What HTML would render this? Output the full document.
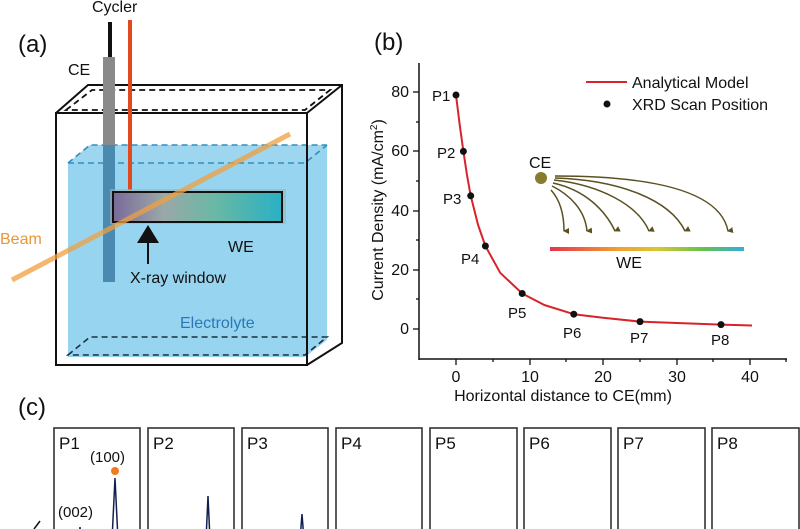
<!DOCTYPE html>
<html><head><meta charset="utf-8"><style>
html,body{margin:0;padding:0;background:#fff;}
svg{display:block;font-family:"Liberation Sans",sans-serif;}
</style></head><body>
<svg width="800" height="529" viewBox="0 0 800 529" xmlns="http://www.w3.org/2000/svg">
<defs>
<linearGradient id="we" x1="0" x2="1"><stop offset="0" stop-color="#7a6a9a"/><stop offset="0.3" stop-color="#9aa8a8"/><stop offset="0.6" stop-color="#6ab8a4"/><stop offset="1" stop-color="#2ab0c4"/></linearGradient>
<linearGradient id="rb" x1="0" x2="1"><stop offset="0" stop-color="#e8334a"/><stop offset="0.35" stop-color="#f0a030"/><stop offset="0.55" stop-color="#d8c830"/><stop offset="0.8" stop-color="#60c050"/><stop offset="1" stop-color="#30b0e0"/></linearGradient>
<marker id="ah" markerWidth="6" markerHeight="6" refX="3" refY="5" orient="auto-start-reverse" markerUnits="userSpaceOnUse"><path d="M0,0 L6,0 L3,6 z" fill="#5a5020"/></marker>
</defs>
<!-- panel a -->
<text x="18" y="52" font-size="24" fill="#111">(a)</text>
<text x="92" y="12" font-size="16" fill="#111">Cycler</text>
<text x="68" y="75" font-size="16" fill="#111">CE</text>
<path d="M56,113 L88,85 L342,85 L342,343 L307,365" fill="none" stroke="#111" stroke-width="2"/>
<path d="M66,110 L92,90 L330,90 L305,110 Z" fill="none" stroke="#111" stroke-width="1.8" stroke-dasharray="6,4"/>
<path d="M68,163 L90,145 L327,145 L327,340 L305,357 L68,357 Z" fill="#8ccfee" opacity="0.9"/>
<path d="M68,163 L90,145 L327,145 L305,163 Z" fill="#9ed6f0"/>
<path d="M68,163 L90,145 L327,145 M68,163 L305,163 L327,145" fill="none" stroke="#2e8fc0" stroke-width="1.6" stroke-dasharray="6,4"/>
<path d="M68,355 L90,337 L327,337 L305,355 Z" fill="none" stroke="#1a3040" stroke-width="1.6" stroke-dasharray="6,4"/>
<rect x="56" y="113" width="251" height="252" fill="none" stroke="#111" stroke-width="2"/>
<path d="M307,113 L342,85" stroke="#111" stroke-width="2"/>
<line x1="110" y1="22" x2="110" y2="58" stroke="#111" stroke-width="4"/>
<line x1="130" y1="20" x2="130" y2="190" stroke="#e04a1e" stroke-width="4"/>
<rect x="103" y="57" width="12" height="225" fill="#8a8a8a"/>
<rect x="103" y="145" width="12" height="137" fill="#4a8ab0"/>
<rect x="110" y="189" width="176" height="35" fill="#9cb4b8" opacity="0.6"/>
<rect x="113" y="192" width="169" height="30" fill="url(#we)" stroke="#111" stroke-width="2"/>
<line x1="12" y1="280" x2="290" y2="134" stroke="#f0a040" stroke-width="5" opacity="0.75"/>
<line x1="148" y1="240" x2="148" y2="264" stroke="#111" stroke-width="2"/>
<path d="M137,243 L159,243 L148,225 Z" fill="#111"/>
<text x="0" y="244" font-size="16" fill="#e8963a">Beam</text>
<text x="228" y="252" font-size="16" fill="#111">WE</text>
<text x="130" y="283" font-size="16" fill="#111">X-ray window</text>
<text x="180" y="328" font-size="16" fill="#2a78b8">Electrolyte</text>
<!-- panel b -->
<text x="374" y="50" font-size="24" fill="#111">(b)</text>
<g stroke="#111" stroke-width="1.5" fill="none">
<line x1="419" y1="63" x2="419" y2="360"/>
<line x1="419" y1="359" x2="787" y2="359"/>
</g>
<g stroke="#111" stroke-width="1.3">
<line x1="419" y1="92" x2="413" y2="92"/><line x1="419" y1="151" x2="413" y2="151"/><line x1="419" y1="211" x2="413" y2="211"/><line x1="419" y1="270" x2="413" y2="270"/><line x1="419" y1="329" x2="413" y2="329"/>
<line x1="419" y1="122" x2="416" y2="122"/><line x1="419" y1="181" x2="416" y2="181"/><line x1="419" y1="240" x2="416" y2="240"/><line x1="419" y1="299" x2="416" y2="299"/>
<line x1="456" y1="359" x2="456" y2="365"/><line x1="530" y1="359" x2="530" y2="365"/><line x1="603" y1="359" x2="603" y2="365"/><line x1="677" y1="359" x2="677" y2="365"/><line x1="750" y1="359" x2="750" y2="365"/>
<line x1="493" y1="359" x2="493" y2="362"/><line x1="566" y1="359" x2="566" y2="362"/><line x1="640" y1="359" x2="640" y2="362"/><line x1="713" y1="359" x2="713" y2="362"/><line x1="786" y1="359" x2="786" y2="362"/>
</g>
<g font-size="16" fill="#111" text-anchor="end">
<text x="409" y="97">80</text><text x="409" y="156">60</text><text x="409" y="216">40</text><text x="409" y="275">20</text><text x="409" y="334">0</text>
</g>
<g font-size="16" fill="#111" text-anchor="middle">
<text x="456" y="382">0</text><text x="530" y="382">10</text><text x="603" y="382">20</text><text x="677" y="382">30</text><text x="750" y="382">40</text>
</g>
<text x="563" y="401" font-size="16" fill="#111" text-anchor="middle">Horizontal distance to CE(mm)</text>
<text transform="translate(383,210) rotate(-90)" font-size="16" fill="#111" text-anchor="middle">Current Density (mA/cm<tspan font-size="10" dy="-6">2</tspan><tspan dy="6">)</tspan></text>
<polyline points="456,95 459.7,124.8 463.4,151.4 467,175 470.7,195.8 478.1,225 485.4,246 500.2,272.8 522.2,293.5 544.3,305 573.8,314.2 603,317.8 640,321.6 677,323 721,324.6 752,325.5" fill="none" stroke="#d8232a" stroke-width="2" stroke-linejoin="round"/>
<g fill="#111">
<circle cx="456" cy="95" r="3.5"/><circle cx="463.4" cy="151.4" r="3.5"/><circle cx="470.7" cy="195.8" r="3.5"/><circle cx="485.4" cy="246" r="3.5"/><circle cx="522.2" cy="293.5" r="3.5"/><circle cx="573.8" cy="314.2" r="3.5"/><circle cx="640" cy="321.6" r="3.5"/><circle cx="721" cy="324.6" r="3.5"/>
</g>
<g font-size="15" fill="#111">
<text x="432" y="101">P1</text><text x="437" y="158">P2</text><text x="443" y="204">P3</text><text x="461" y="264">P4</text><text x="508" y="318">P5</text><text x="563" y="338">P6</text><text x="630" y="343">P7</text><text x="711" y="345">P8</text>
</g>
<line x1="586" y1="82" x2="627" y2="82" stroke="#d8232a" stroke-width="2"/>
<text x="632" y="88" font-size="16" fill="#111">Analytical Model</text>
<circle cx="607" cy="104" r="3.5" fill="#111"/>
<text x="632" y="110" font-size="16" fill="#111">XRD Scan Position</text>
<text x="529" y="168" font-size="16" fill="#111">CE</text>
<circle cx="541" cy="178" r="6" fill="#8a7a30"/>
<g fill="none" stroke="#5a5020" stroke-width="1.5" marker-end="url(#ah)">
<path d="M551,190 C560,200 564,215 564,231"/>
<path d="M552,186 C570,195 585,210 587,231"/>
<path d="M553,183 C585,190 605,210 615,231"/>
<path d="M554,180 C600,185 638,205 649,231"/>
<path d="M555,178 C620,180 670,200 685,231"/>
<path d="M555,176 C650,176 720,190 728,231"/>
</g>
<rect x="550" y="247" width="194" height="4" fill="url(#rb)"/>
<text x="629" y="268" font-size="16" fill="#111" text-anchor="middle">WE</text>
<!-- panel c -->
<text x="18" y="415" font-size="24" fill="#111">(c)</text>
<g fill="none" stroke="#333" stroke-width="1.6">
<rect x="54" y="428" width="86" height="110"/><rect x="148" y="428" width="86" height="110"/><rect x="242" y="428" width="86" height="110"/><rect x="336" y="428" width="86" height="110"/><rect x="430" y="428" width="87" height="110"/><rect x="524" y="428" width="87" height="110"/><rect x="618" y="428" width="87" height="110"/><rect x="712" y="428" width="87" height="110"/>
</g>
<g font-size="17" fill="#111">
<text x="59" y="449">P1</text><text x="153" y="449">P2</text><text x="247" y="449">P3</text><text x="341" y="449">P4</text><text x="435" y="449">P5</text><text x="529" y="449">P6</text><text x="623" y="449">P7</text><text x="717" y="449">P8</text>
</g>
<text x="90" y="462" font-size="15" fill="#111">(100)</text>
<text x="58" y="517" font-size="15" fill="#111">(002)</text>
<circle cx="115" cy="471" r="4" fill="#f07a20"/>
<g fill="none" stroke="#102050" stroke-width="1.5">
<path d="M112,540 L115,478 L118,540"/>
<path d="M206,540 L208,496 L210,540"/>
<path d="M300,540 L302,514 L304,540"/>
<path d="M79,540 L80,527 L81,540"/>
</g>
<line x1="34" y1="529" x2="40" y2="521" stroke="#111" stroke-width="1.5"/>
</svg>
</body></html>
